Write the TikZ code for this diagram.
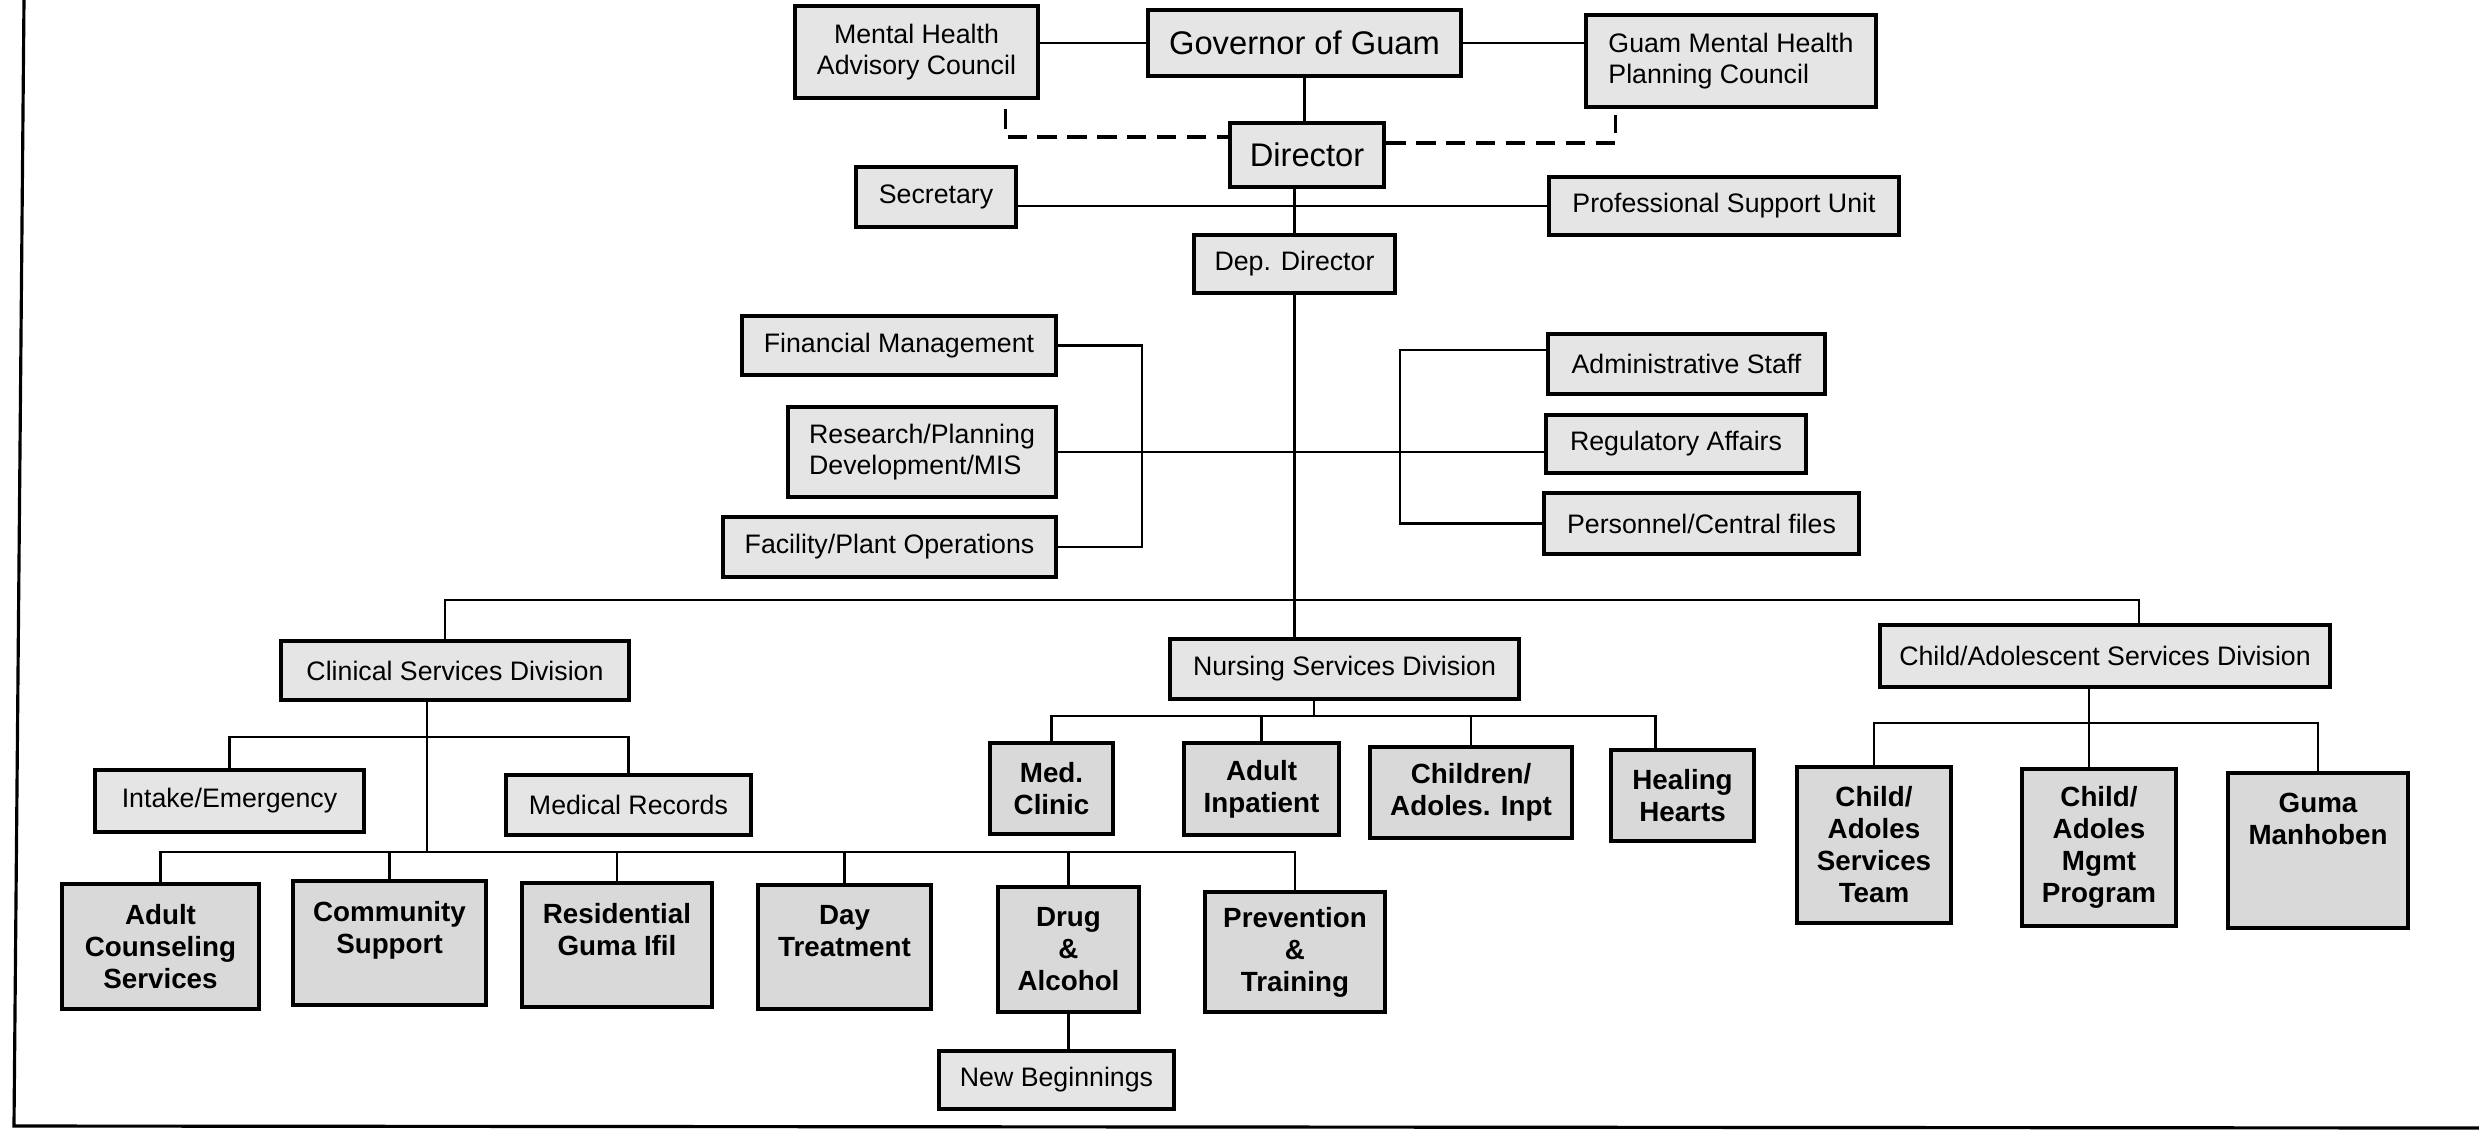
\documentclass[tikz,border=0pt]{standalone}
\usepackage{fontspec}
\setmainfont{Liberation Sans}
\usetikzlibrary{calc}
\begin{document}
\begin{tikzpicture}[x=0.01cm,y=-0.01cm,
  bb/.style n args={4}{at={({(#1+#3)/2},{(#2+#4)/2})},
    minimum width={(#3-#1)*0.1mm}, minimum height={(#4-#2)*0.1mm}},
  bx/.style={draw=black, line width=1.3pt, inner sep=0pt, align=center,
    font=\fontsize{7.6}{8.8}\selectfont, fill=gray!20},
  bxb/.style={bx, fill=gray!30, font=\fontsize{7.9}{9.1}\selectfont\bfseries},
  bxl/.style={bx, font=\fontsize{9.3}{11}\selectfont},
  con/.style={line width=0.7pt},
  dsh/.style={line width=0.9pt, dash pattern=on 5.5pt off 3pt}]
\useasboundingbox (0,0) rectangle (2479,1138);
% frame
\draw[line width=0.9pt] (24,0) -- (14,1126) -- (2479,1128);
% top
\node[bx, bb={795}{6}{1038}{98}] (mh) {Mental Health\\Advisory Council};
\node[bxl, bb={1148}{10}{1461}{76}] (gov) {Governor of Guam};
\node[bx, align=left, bb={1586}{15}{1876}{107}] (pc) {Guam Mental Health\\Planning Council};
\node[bxl, bb={1230}{123}{1384}{187}] (dir) {Director};
\node[bx, bb={856}{167}{1016}{227}] (sec) {Secretary};
\node[bx, bb={1549}{177}{1899}{235}] (psu) {Professional Support Unit};
\node[bx, bb={1194}{235}{1395}{293}] (dep) {Dep. Director};
% staff
\node[bx, bb={742}{316}{1056}{375}] (fm) {Financial Management};
\node[bx, align=left, bb={788}{407}{1056}{497}] (res) {Research/Planning\\Development/MIS};
\node[bx, bb={723}{517}{1056}{577}] (fac) {Facility/Plant Operations};
\node[bx, bb={1548}{334}{1825}{394}] (adm) {Administrative Staff};
\node[bx, bb={1546}{415}{1806}{473}] (reg) {Regulatory Affairs};
\node[bx, bb={1544}{493}{1859}{554}] (per) {Personnel/Central files};
% divisions
\node[bx, bb={281}{641}{629}{700}] (csd) {Clinical Services Division};
\node[bx, bb={1170}{639}{1519}{699}] (nsd) {Nursing Services Division};
\node[bx, bb={1880}{625}{2330}{687}] (cad) {Child/Adolescent Services Division};
% clinical
\node[bx, bb={95}{770}{364}{832}] (ie) {Intake/Emergency};
\node[bx, bb={506}{775}{751}{835}] (mr) {Medical Records};
\node[bxb, bb={62}{884}{259}{1009}] (acs) {Adult\\Counseling\\Services};
\node[bxb, bb={293}{881}{486}{1005}] (cs) {Community\\Support\\\mbox{}};
\node[bxb, bb={522}{883}{712}{1007}] (rg) {Residential\\Guma Ifil\\\mbox{}};
\node[bxb, bb={758}{885}{931}{1009}] (dt) {Day\\Treatment\\\mbox{}};
\node[bxb, bb={998}{887}{1139}{1012}] (da) {Drug\\\&\\Alcohol};
\node[bxb, bb={1205}{892}{1385}{1012}] (pt) {Prevention\\\&\\Training};
\node[bx, bb={939}{1051}{1174}{1109}] (nb) {New Beginnings};
% nursing
\node[bxb, bb={990}{743}{1113}{834}] (mc) {Med.\\Clinic};
\node[bxb, bb={1184}{743}{1339}{835}] (ai) {Adult\\Inpatient};
\node[bxb, bb={1370}{747}{1572}{838}] (ci) {Children/\\Adoles. Inpt};
\node[bxb, bb={1611}{750}{1754}{841}] (hh) {Healing\\Hearts};
% child
\node[bxb, bb={1797}{767}{1951}{923}] (cst) {Child/\\Adoles\\Services\\Team};
\node[bxb, bb={2022}{769}{2176}{926}] (cam) {Child/\\Adoles\\Mgmt\\Program};
\node[bxb, bb={2228}{773}{2408}{928}] (gm) {Guma\\Manhoben\\\mbox{}\\\mbox{}};
% connectors top
\draw[con] (gov.west) -- (gov.west -| mh.east);
\draw[con] (gov.east) -- (gov.east -| pc.west);
\draw[con] (gov.south) -- (gov.south |- dir.north);
\draw[dsh] ($(mh.south east)+(-35,9)$) |- ([yshift=1.8mm]dir.west);
\draw[dsh] ([yshift=1.2mm]dir.east) -| ($(pc.south west)+(32,6)$);
\draw[con] (psu.west) -- (psu.west -| sec.east);
\draw[con] (dep.north) -- (dep.north |- dir.south);
\draw[con] (dep.south) -- (dep.south |- nsd.north);
\coordinate (lb) at (1142,450);
\coordinate (rb) at (1400,450);
\draw[con] (fm.east) -- (fm.east -| lb) -- (fac.east -| lb) -- (fac.east);
\draw[con] (res.east) -- (res.east -| reg.west);
\draw[con] ([yshift=1.4mm]adm.west) -- ([yshift=1.4mm]adm.west -| rb) -- (per.west -| rb) -- (per.west);
% division bus
\coordinate (bl) at (445,600);
\coordinate (br) at (2139,600);
\draw[con] (csd.north -| bl) -- (bl) -- (br) -- (br |- cad.north);
% clinical
\coordinate (cv) at (427,737);
\coordinate (c2) at (427,852);
\draw[con] (csd.south -| cv) -- (c2);
\draw[con] (ie.north) |- (cv) -| (mr.north);
\draw[con] (acs.north) |- (c2) -| (pt.north);
\foreach \n in {cs,rg,dt,da} \draw[con] (\n.north) -- (\n.north |- c2);
\draw[con] (da.south) -- (da.south |- nb.north);
% nursing
\coordinate (nv) at (1314,716);
\draw[con] (nsd.south -| nv) -- (nv);
\draw[con] (mc.north) |- (nv) -| ([xshift=-2.7mm]hh.north);
\draw[con] (ai.north) -- (ai.north |- nv);
\draw[con] (ci.north) -- (ci.north |- nv);
% child
\coordinate (kv) at (2089,723);
\draw[con] (cad.south -| kv) -- (kv |- cam.north);
\draw[con] (cst.north) |- (kv) -| (gm.north);
\end{tikzpicture}
\end{document}
